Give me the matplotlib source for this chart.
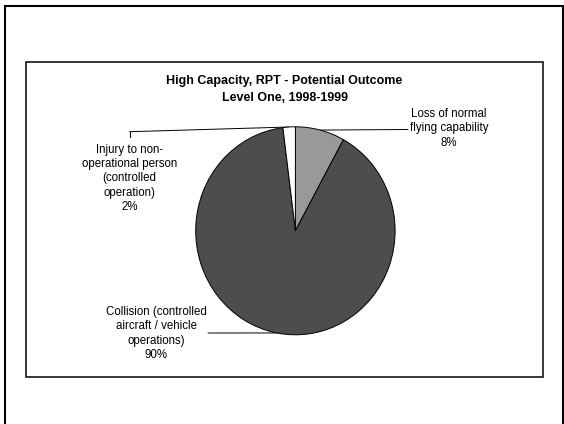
import numpy as np
import matplotlib.pyplot as plt

plt.rcParams['font.family'] = ['Liberation Sans', 'DejaVu Sans']

# -----------------------------
# Data
# -----------------------------
categories = ["Loss of normal\nflying capability",
              "Collision (controlled\naircraft / vehicle\noperations)",
              "Injury to non-\noperational person\n(controlled\noperation)"]
shares = [8, 90, 2]
colors = ["#999999", "#4d4d4d", "#ffffff"]
title = "High Capacity, RPT - Potential Outcome\nLevel One, 1998-1999"

W, H = 564, 424
fig = plt.figure(figsize=(W / 100, H / 100), dpi=100)

# background axes in pixel coords for frames, title, labels
bg = fig.add_axes([0, 0, 1, 1])
bg.set_xlim(0, W)
bg.set_ylim(H, 0)
bg.axis("off")

# outer frame (bottom edge is cut off)
bg.plot([4.5, 4.5, 562.5, 562.5], [H + 5, 5.5, 5.5, H + 5], color="black", lw=1.5,
        solid_joinstyle="miter")
# chart area box
bg.add_patch(plt.Rectangle((26, 62), 517, 315, fill=False, ec="black", lw=1.1))

bg.text(284.5, 89.5, title, ha="center", va="center", fontsize=9,
        fontweight="bold", linespacing=1.45)

# -----------------------------
# Pie
# -----------------------------
cx, cy, rx, ry = 295.4, 230.8, 99.7, 104.0
ax = fig.add_axes([(cx - rx) / W, (H - cy - ry) / H, 2 * rx / W, 2 * ry / H])
wedges, _ = ax.pie(shares, colors=colors, startangle=90, counterclock=False,
                   wedgeprops=dict(edgecolor="black", linewidth=0.7))
ax.set_aspect("auto")
ax.set_xlim(-1, 1)
ax.set_ylim(-1, 1)
ax.axis("off")
for w in wedges:
    w.set_clip_on(False)

# mid angles of each slice (data coords on the pie edge)
fr = np.array(shares) / sum(shares)
starts = 90 - 360 * np.concatenate([[0], np.cumsum(fr)[:-1]])
mids = np.deg2rad(starts - 180 * fr)
edge_pts = [(np.cos(a), np.sin(a)) for a in mids]

line_kw = dict(arrowstyle="-", lw=0.7, color="black", shrinkA=0, shrinkB=0)
lab_kw = dict(ha="center", va="center", fontsize=8.3, linespacing=1.25)

# Loss of normal flying capability
bg.annotate("", xy=edge_pts[0], xycoords=ax.transData, xytext=(408, 129.5),
            textcoords="data", arrowprops=line_kw)
bg.text(449, 128.5, categories[0] + "\n%d%%" % shares[0], **lab_kw)

# Collision
bg.annotate("", xy=edge_pts[1], xycoords=ax.transData, xytext=(208, 333),
            textcoords="data", arrowprops=line_kw)
bg.text(156, 333.5, categories[1] + "\n%d%%" % shares[1], **lab_kw)

# Injury
bg.plot([129.5, 129.5], [137, 131.7], color="black", lw=0.7)
bg.annotate("", xy=edge_pts[2], xycoords=ax.transData, xytext=(129.5, 131.7),
            textcoords="data", arrowprops=line_kw)
bg.text(129.5, 178.5, categories[2] + "\n%d%%" % shares[2], **lab_kw)

fig.savefig("out.png", dpi=100)
